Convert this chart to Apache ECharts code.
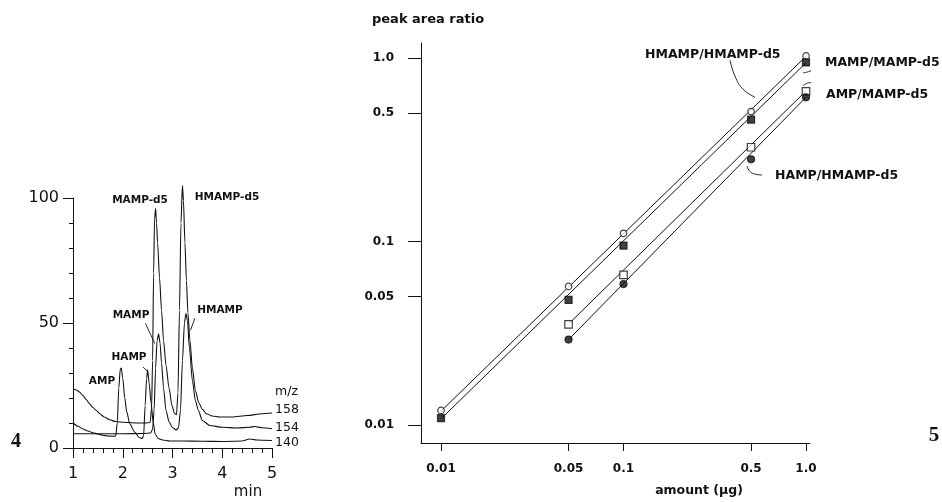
<!DOCTYPE html>
<html><head><meta charset="utf-8">
<script src="https://cdn.jsdelivr.net/npm/echarts@6/dist/echarts.min.js"></script>
<style>html,body{margin:0;padding:0;background:#fff}#c{width:942px;height:502px}</style>
</head><body><div id="c"></div>
<script>
// ---------- Panel 4: chromatogram (time in min, relative intensity) ----------
const t158 = [1.0,1.07,1.13,1.2,1.27,1.33,1.4,1.47,1.54,1.62,1.74,1.85,1.94,2.1,2.3,2.45,2.55,2.58,2.6,2.62,2.64,2.66,2.68,2.7,2.74,2.78,2.82,2.87,2.93,2.99,3.04,3.08,3.11,3.14,3.17,3.2,3.22,3.25,3.28,3.31,3.35,3.4,3.46,3.53,3.6,3.68,3.8,3.95,4.2,4.5,4.8,5.0];
const v158 = [23.7,23.2,22.4,21,19.3,17.7,16.2,15,13.7,12.5,11.3,10.6,10.4,10.2,10.0,10.0,10.2,16,35,70,92,95.8,90,82,68,55,43,33,24,17,13.8,13.3,22,55,90,105,99,82,67,54,43,32,23,18,15.5,13.7,12.8,12.4,12.4,13,13.7,14];
const t154 = [1.0,1.5,2.0,2.4,2.56,2.6,2.63,2.66,2.69,2.72,2.75,2.78,2.82,2.87,2.93,3.0,3.07,3.12,3.16,3.2,3.24,3.27,3.3,3.34,3.4,3.46,3.52,3.6,3.75,4.0,4.3,4.55,4.65,4.8,5.0];
const v154 = [5.7,5.7,5.7,5.8,6.0,7.5,15,32,43,45.7,42,34,24,15,10.5,8.2,7.2,8,15,35,50,53.8,51,40,27,19,15,11,9,8.3,8,8.3,8.6,8.1,7.7];
const t140 = [1.0,1.1,1.2,1.3,1.4,1.5,1.6,1.7,1.8,1.86,1.89,1.92,1.95,1.97,2.0,2.04,2.08,2.14,2.24,2.33,2.39,2.42,2.45,2.48,2.5,2.53,2.57,2.61,2.65,2.71,2.8,2.95,3.2,3.6,4.0,4.4,4.55,4.7,5.0];
const v140 = [10,8.7,7.6,6.8,6.1,5.6,5.1,4.8,4.7,4.8,10,24,31.5,32,28,20,14.5,9.7,6.4,4.2,3.8,5,17,28,31.3,26,18,10.5,5.7,3.8,3.2,2.8,2.8,2.7,2.6,2.8,3.6,3.2,3.0];
const leaderMAMP = [[2.457,49.8],[2.644,41.8]];
const leaderHAMP = [[2.408,32.4],[2.509,30.4]];
const leaderHMAMP = [[3.449,51.9],[3.362,47.1]];

// ---------- Panel 5: calibration (amount in ug, peak area ratio) ----------
const amounts = [0.01,0.05,0.1,0.5,1.0];
const hmampRatio = [0.012,0.0569,0.1107,0.51,1.025];
const mampRatio = [0.0109,0.048,0.095,0.461,0.944];
const amountsAmp = [0.05,0.1,0.5,1.0];
const ampRatio = [0.0353,0.0658,0.326,0.657];
const hampRatio = [0.0292,0.0586,0.28,0.61];
const hmampFitX = [0.01,1.0], hmampFitY = [0.0119,1.02];
const mampFitX = [0.01,1.0], mampFitY = [0.0108,0.94];
const ampFitX = [0.05,1.0], ampFitY = [0.0355,0.66];
const hampFitX = [0.05,1.0], hampFitY = [0.0292,0.61];
const ratioTicks = [0.01,0.05,0.1,0.5,1.0];
const ratioTickLabels = ['0.01','0.05','0.1','0.5','1.0'];
const amountTicks = [0.01,0.05,0.1,0.5,1.0];
const amountTickLabels = ['0.01','0.05','0.1','0.5','1.0'];
const leaderR_HMAMP = {x:[0.3835,0.408,0.4516,0.5255], y:[0.9727,0.796,0.676,0.6114]};
const leaderR_MAMP = {x:[0.963,1.0517,1.1781], y:[0.8294,0.8475,0.9137]};
const leaderR_AMP = {x:[0.963,1.0517,1.193], y:[0.705,0.733,0.729]};
const leaderR_HAMP = {x:[0.4749,0.5059,0.574], y:[0.2574,0.2358,0.23]};

const L = Math.log10;
const blk = '#111';
const pairs = (xs, ys) => xs.map((x, i) => [x, ys[i]]);
const logPairs = (xs, ys) => xs.map((x, i) => [L(x), L(ys[i])]);
const labelOf = (ticks, labels) => v => {
  let best = 0;
  ticks.forEach((t, i) => { if (Math.abs(L(t) - v) < Math.abs(L(ticks[best]) - v)) best = i; });
  return labels[best];
};

const trace = d => ({type:'line', xAxisIndex:0, yAxisIndex:0, data:d, symbol:'none', smooth:0.25, smoothMonotone:'x',
  clip:false, silent:true, lineStyle:{color:blk, width:1.1}});
const leftLeader = d => ({type:'line', xAxisIndex:0, yAxisIndex:0, data:d, symbol:'none', clip:false, silent:true, lineStyle:{color:blk, width:0.9}});
const fitLine = d => ({type:'line', xAxisIndex:1, yAxisIndex:1, data:d, symbol:'none', clip:false, silent:true, lineStyle:{color:blk, width:1}});
const rLeader = o => ({type:'line', xAxisIndex:1, yAxisIndex:1, data:logPairs(o.x, o.y), symbol:'none', smooth:0.5, clip:false, silent:true, lineStyle:{color:blk, width:0.9}});
const pts = (d, sym, filled, size) => ({type:'scatter', xAxisIndex:1, yAxisIndex:1, data:d, symbol:sym, symbolSize:size, clip:false, silent:true, z:5,
  itemStyle:{color: filled ? blk : '#fff', borderColor: blk, borderWidth: 1.2}});

const xLogMin = -2.1096, xLogMax = 0.0219;
const yLogMin = -2.098, yLogMax = 0.081;

const bold = s => 'bold ' + s + 'px "DejaVu Sans"';
const txt = (text, x, y, font, align) => ({type:'text', x:x, y:y, silent:true,
  style:{text:text, font:font, fill:blk, align:align||'left', verticalAlign:'middle', textAlign:align||'left', textVerticalAlign:'middle'}});

const chart = echarts.init(document.getElementById('c'));
chart.setOption({
  backgroundColor:'#fff',
  animation:false,
  grid:[
    {left:73, top:198, width:199, height:250},
    {left:421, top:43, width:389, height:400}
  ],
  xAxis:[
    {type:'value', gridIndex:0, min:1, max:5, interval:1,
     axisLine:{show:true, onZero:false, lineStyle:{color:blk, width:1}},
     axisTick:{show:true, length:10, lineStyle:{color:blk}},
     minorTick:{show:true, splitNumber:5, length:5, lineStyle:{color:blk}},
     axisLabel:{margin:18, color:blk, fontSize:16, fontFamily:'DejaVu Sans'},
     splitLine:{show:false}},
    {type:'value', gridIndex:1, min:xLogMin, max:xLogMax,
     axisLine:{show:true, onZero:false, lineStyle:{color:blk, width:1}},
     axisTick:{show:true, length:8, customValues:amountTicks.map(L), lineStyle:{color:blk}},
     axisLabel:{customValues:amountTicks.map(L), formatter:labelOf(amountTicks, amountTickLabels), margin:20,
       color:blk, fontSize:12, fontWeight:'bold', fontFamily:'DejaVu Sans'},
     splitLine:{show:false}}
  ],
  yAxis:[
    {type:'value', gridIndex:0, min:0, max:100, interval:50,
     axisLine:{show:true, onZero:false, lineStyle:{color:blk, width:1}},
     axisTick:{show:true, length:10, lineStyle:{color:blk}},
     minorTick:{show:true, splitNumber:5, length:4, lineStyle:{color:blk}},
     axisLabel:{margin:14, color:blk, fontSize:16, fontFamily:'DejaVu Sans'},
     splitLine:{show:false}},
    {type:'value', gridIndex:1, min:yLogMin, max:yLogMax,
     axisLine:{show:true, onZero:false, lineStyle:{color:blk, width:1}},
     axisTick:{show:true, length:13, customValues:ratioTicks.map(L), lineStyle:{color:blk}},
     axisLabel:{customValues:ratioTicks.map(L), formatter:labelOf(ratioTicks, ratioTickLabels), margin:27,
       color:blk, fontSize:12, fontWeight:'bold', fontFamily:'DejaVu Sans'},
     splitLine:{show:false}}
  ],
  series:[
    trace(pairs(t158, v158)),
    trace(pairs(t154, v154)),
    trace(pairs(t140, v140)),
    leftLeader(leaderMAMP), leftLeader(leaderHAMP), leftLeader(leaderHMAMP),
    fitLine(logPairs(hmampFitX, hmampFitY)),
    fitLine(logPairs(mampFitX, mampFitY)),
    fitLine(logPairs(ampFitX, ampFitY)),
    fitLine(logPairs(hampFitX, hampFitY)),
    rLeader(leaderR_HMAMP), rLeader(leaderR_MAMP), rLeader(leaderR_AMP), rLeader(leaderR_HAMP),
    pts(logPairs(amounts, hmampRatio), 'circle', false, 6.5),
    pts(logPairs(amounts, mampRatio), 'rect', true, 7),
    pts(logPairs(amountsAmp, ampRatio), 'rect', false, 7.5),
    pts(logPairs(amountsAmp, hampRatio), 'circle', true, 7)
  ],
  graphic:[
    txt('MAMP-d5', 140, 200, bold(10.5), 'center'),
    txt('HMAMP-d5', 227, 197, bold(10.5), 'center'),
    txt('MAMP', 131, 315, bold(10.5), 'center'),
    txt('HMAMP', 220, 310, bold(10.5), 'center'),
    txt('HAMP', 129, 357, bold(10.5), 'center'),
    txt('AMP', 102, 381, bold(10.5), 'center'),
    txt('m/z', 275, 392, '12.5px "DejaVu Sans"'),
    txt('158', 275, 410, '12.5px "DejaVu Sans"'),
    txt('154', 275, 428, '12.5px "DejaVu Sans"'),
    txt('140', 275, 443, '12.5px "DejaVu Sans"'),
    txt('min', 248, 492, '15px "DejaVu Sans"', 'center'),
    txt('4', 16, 442, 'bold 20px "Liberation Serif"', 'center'),
    txt('peak area ratio', 372, 20, bold(13)),
    txt('amount (\u00b5g)', 699, 491, bold(12.5), 'center'),
    txt('HMAMP/HMAMP-d5', 645, 55, bold(12.5)),
    txt('MAMP/MAMP-d5', 825, 63, bold(12.5)),
    txt('AMP/MAMP-d5', 826, 95, bold(12.5)),
    txt('HAMP/HMAMP-d5', 775, 176, bold(12.5)),
    txt('5', 934, 436, 'bold 21px "Liberation Serif"', 'center')
  ]
});
</script></body></html>
